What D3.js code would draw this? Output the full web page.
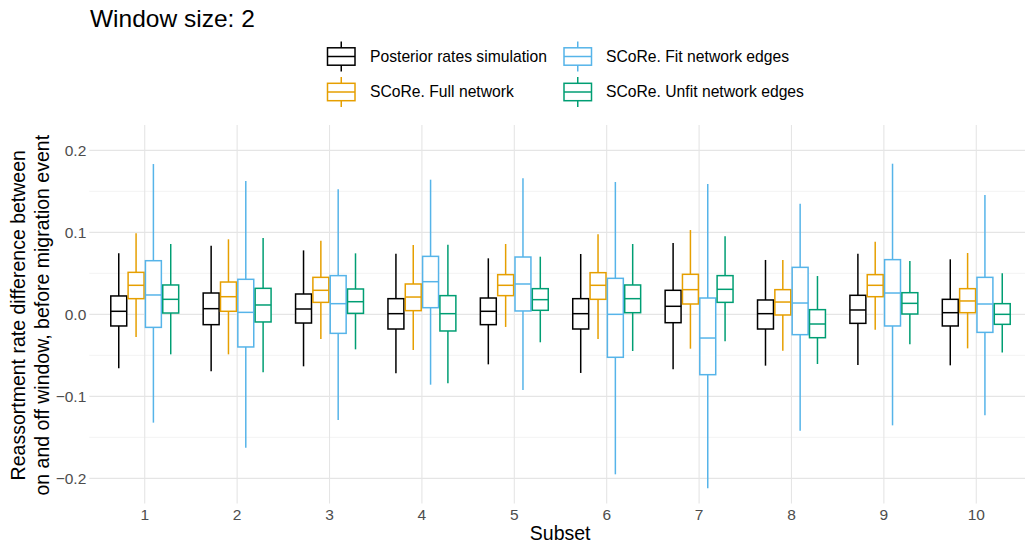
<!DOCTYPE html>
<html>
<head>
<meta charset="utf-8">
<script src="https://cdn.jsdelivr.net/npm/d3@7"></script>
<style>
  body { margin: 0; background: #fff; }
  svg { display: block; font-family: "Liberation Sans", Arial, sans-serif; }
</style>
</head>
<body>
<svg id="chart" width="1025" height="547"></svg>
<script>
// Box stats per subset: [lower whisker, q1, median, q3, upper whisker]
const subsets = ['1', '2', '3', '4', '5', '6', '7', '8', '9', '10'];
const seriesNames = ['Posterior rates simulation', 'SCoRe. Full network', 'SCoRe. Fit network edges', 'SCoRe. Unfit network edges'];
const seriesColors = ['#000000', '#E69F00', '#56B4E9', '#009E73'];

const posterior = [
    [-0.0659, -0.0142, 0.0037, 0.0224, 0.0744],
    [-0.0695, -0.0126, 0.0069, 0.0260, 0.0837],
    [-0.0634, -0.0106, 0.0065, 0.0248, 0.0780],
    [-0.0720, -0.0179, 0.0008, 0.0191, 0.0740],
    [-0.0610, -0.0126, 0.0037, 0.0199, 0.0683],
    [-0.0715, -0.0179, 0.0008, 0.0191, 0.0736],
    [-0.0671, -0.0102, 0.0098, 0.0293, 0.0870],
    [-0.0626, -0.0179, 0.0008, 0.0175, 0.0663],
    [-0.0618, -0.0110, 0.0053, 0.0232, 0.0740],
    [-0.0622, -0.0142, 0.0020, 0.0183, 0.0671]
];
const fullNetwork = [
    [-0.0276, 0.0191, 0.0354, 0.0512, 0.0988],
    [-0.0488, 0.0037, 0.0215, 0.0394, 0.0915],
    [-0.0301, 0.0146, 0.0293, 0.0451, 0.0898],
    [-0.0435, 0.0045, 0.0211, 0.0370, 0.0846],
    [-0.0154, 0.0228, 0.0354, 0.0484, 0.0858],
    [-0.0301, 0.0183, 0.0354, 0.0508, 0.0976],
    [-0.0419, 0.0126, 0.0301, 0.0488, 0.1028],
    [-0.0443, -0.0008, 0.0150, 0.0301, 0.0663],
    [-0.0187, 0.0215, 0.0354, 0.0484, 0.0886],
    [-0.0415, 0.0020, 0.0163, 0.0313, 0.0748]
];
const fitEdges = [
    [-0.1321, -0.0159, 0.0236, 0.0654, 0.1833],
    [-0.1626, -0.0398, 0.0024, 0.0427, 0.1626],
    [-0.1289, -0.0232, 0.0130, 0.0472, 0.1524],
    [-0.0858, 0.0081, 0.0398, 0.0707, 0.1642],
    [-0.0923, 0.0041, 0.0370, 0.0699, 0.1659],
    [-0.1951, -0.0524, 0.0000, 0.0439, 0.1614],
    [-0.2122, -0.0736, -0.0289, 0.0199, 0.1589],
    [-0.1419, -0.0248, 0.0138, 0.0573, 0.1350],
    [-0.1354, -0.0142, 0.0260, 0.0667, 0.1837],
    [-0.1232, -0.0220, 0.0126, 0.0451, 0.1455]
];
const unfitEdges = [
    [-0.0488, 0.0016, 0.0183, 0.0358, 0.0858],
    [-0.0707, -0.0093, 0.0114, 0.0317, 0.0931],
    [-0.0427, 0.0012, 0.0154, 0.0309, 0.0744],
    [-0.0841, -0.0203, 0.0008, 0.0228, 0.0850],
    [-0.0341, 0.0049, 0.0179, 0.0313, 0.0703],
    [-0.0447, 0.0020, 0.0191, 0.0358, 0.0858],
    [-0.0329, 0.0146, 0.0305, 0.0472, 0.0951],
    [-0.0606, -0.0285, -0.0118, 0.0057, 0.0467],
    [-0.0366, 0.0004, 0.0134, 0.0264, 0.0650],
    [-0.0467, -0.0122, 0.0000, 0.0130, 0.0500]
];
const seriesValues = [posterior, fullNetwork, fitEdges, unfitEdges];

const yTicks = [-0.2, -0.1, 0.0, 0.1, 0.2];
const yMinor = [-0.15, -0.05, 0.05, 0.15];

const svg = d3.select('#chart');
const panel = { left: 89.3, right: 1031.7, top: 125, bottom: 503.5 };

const x = d3.scaleBand()
    .domain(subsets)
    .range([panel.left, panel.right])
    .paddingInner(0)
    .paddingOuter(0.1);

const dodge = x.step() * 0.75;
const x1 = d3.scaleBand()
    .domain(seriesNames)
    .range([-dodge / 2, dodge / 2]);

const y = d3.scaleLinear()
    .domain([-0.2307, 0.2309])
    .range([panel.bottom, panel.top]);

// Grid
const grid = svg.append('g');
grid.selectAll('line.minor')
    .data(yMinor)
    .enter().append('line')
    .attr('x1', panel.left).attr('x2', panel.right)
    .attr('y1', d => y(d)).attr('y2', d => y(d))
    .attr('stroke', '#ebebeb').attr('stroke-width', 0.6);
grid.selectAll('line.major')
    .data(yTicks)
    .enter().append('line')
    .attr('x1', panel.left).attr('x2', panel.right)
    .attr('y1', d => y(d)).attr('y2', d => y(d))
    .attr('stroke', '#e5e5e5').attr('stroke-width', 1.1);
grid.selectAll('line.vert')
    .data(subsets)
    .enter().append('line')
    .attr('x1', d => x(d) + x.bandwidth() / 2).attr('x2', d => x(d) + x.bandwidth() / 2)
    .attr('y1', panel.top).attr('y2', panel.bottom)
    .attr('stroke', '#e5e5e5').attr('stroke-width', 1.1);

// Axes (text only, theme_minimal style)
const fmt = d => d3.format('.1f')(d).replace('-', '\u2212');
const yAxis = svg.append('g')
    .attr('transform', `translate(${panel.left - 3},0)`)
    .call(d3.axisLeft(y).tickValues(yTicks).tickFormat(fmt).tickSize(0).tickPadding(0));
yAxis.select('.domain').remove();
yAxis.selectAll('text')
    .attr('fill', '#4d4d4d').attr('font-size', 15.5)
    .attr('font-family', '"Liberation Sans", Arial, sans-serif');

const xAxis = svg.append('g')
    .attr('transform', `translate(0,${panel.bottom})`)
    .call(d3.axisBottom(x).tickSize(0).tickPadding(5));
xAxis.select('.domain').remove();
xAxis.selectAll('text')
    .attr('fill', '#4d4d4d').attr('font-size', 15.5)
    .attr('font-family', '"Liberation Sans", Arial, sans-serif');

// Boxes
const boxW = x1.bandwidth() * 0.92;
seriesValues.forEach((values, si) => {
    const g = svg.append('g');
    const color = seriesColors[si];
    const items = values.map((v, i) => ({ subset: subsets[i], v: v }));
    const cx = d => x(d.subset) + x.bandwidth() / 2 + x1(seriesNames[si]) + x1.bandwidth() / 2;

    g.selectAll('line.wh-hi').data(items).enter().append('line')
        .attr('x1', cx).attr('x2', cx)
        .attr('y1', d => y(d.v[3])).attr('y2', d => y(d.v[4]))
        .attr('stroke', color).attr('stroke-width', 1.5);
    g.selectAll('line.wh-lo').data(items).enter().append('line')
        .attr('x1', cx).attr('x2', cx)
        .attr('y1', d => y(d.v[1])).attr('y2', d => y(d.v[0]))
        .attr('stroke', color).attr('stroke-width', 1.5);
    g.selectAll('rect').data(items).enter().append('rect')
        .attr('x', d => cx(d) - boxW / 2)
        .attr('width', boxW)
        .attr('y', d => y(d.v[3]))
        .attr('height', d => y(d.v[1]) - y(d.v[3]))
        .attr('fill', '#fff')
        .attr('stroke', color).attr('stroke-width', 1.5);
    g.selectAll('line.med').data(items).enter().append('line')
        .attr('x1', d => cx(d) - boxW / 2).attr('x2', d => cx(d) + boxW / 2)
        .attr('y1', d => y(d.v[2])).attr('y2', d => y(d.v[2]))
        .attr('stroke', color).attr('stroke-width', 1.5);
});

// Title
svg.append('text')
    .attr('x', 90).attr('y', 27)
    .attr('font-size', 24.5).attr('fill', '#000')
    .text('Window size: 2');

// Axis titles
svg.append('text')
    .attr('x', (panel.left + 1025) / 2 + 3).attr('y', 540)
    .attr('text-anchor', 'middle').attr('font-size', 19.5)
    .text('Subset');

const yTitle = svg.append('text')
    .attr('transform', `translate(0,${(panel.top + panel.bottom) / 2 + 1}) rotate(-90)`)
    .attr('text-anchor', 'middle').attr('font-size', 19.5);
yTitle.append('tspan').attr('x', 0).attr('y', 25).text('Reassortment rate difference between');
yTitle.append('tspan').attr('x', 0).attr('y', 49).text('on and off window, before migration event');

// Legend
const legendPos = [
    { kx: 327.5, tx: 370, cy: 56.5 },
    { kx: 327.5, tx: 370, cy: 92 },
    { kx: 564, tx: 606, cy: 56.5 },
    { kx: 564, tx: 606, cy: 92 }
];
const legend = svg.append('g');
seriesNames.forEach((name, i) => {
    const p = legendPos[i];
    const c = seriesColors[i];
    const kw = 27.5;
    const lg = legend.append('g');
    lg.append('line')
        .attr('x1', p.kx + kw / 2).attr('x2', p.kx + kw / 2)
        .attr('y1', p.cy - 15).attr('y2', p.cy + 15)
        .attr('stroke', c).attr('stroke-width', 1.5);
    lg.append('rect')
        .attr('x', p.kx).attr('y', p.cy - 8.7)
        .attr('width', kw).attr('height', 17.4)
        .attr('fill', '#fff').attr('stroke', c).attr('stroke-width', 1.5);
    lg.append('line')
        .attr('x1', p.kx).attr('x2', p.kx + kw)
        .attr('y1', p.cy).attr('y2', p.cy)
        .attr('stroke', c).attr('stroke-width', 1.5);
    lg.append('text')
        .attr('x', p.tx).attr('y', p.cy + 5.3)
        .attr('font-size', 15.7).attr('fill', '#000')
        .text(name);
});
</script>
</body>
</html>
